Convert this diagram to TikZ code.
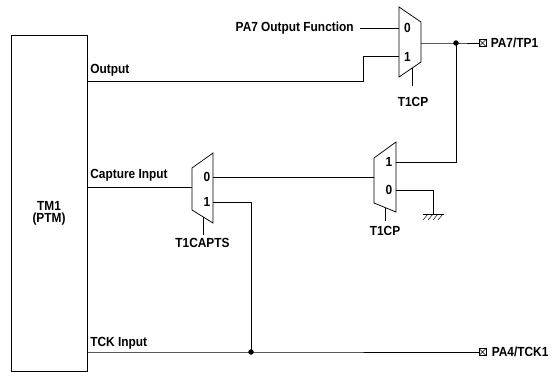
\documentclass[tikz,border=0pt]{standalone}
\usepackage{fontspec}
\setmainfont[FakeStretch=0.9]{Liberation Sans}
\begin{document}
\begin{tikzpicture}[x=1pt,y=-1pt,line width=0.75pt,
  lbl/.style={font=\fontsize{13.2}{14}\selectfont\bfseries,inner sep=0pt},
  muxbox/.style={draw,line width=0.75pt},
  dotnode/.style={circle,fill,inner sep=0pt,minimum size=5.5pt},
  pinbox/.style={draw,line width=0.6pt,inner sep=0pt,minimum size=7pt,
    path picture={\draw[line width=0.5pt] (path picture bounding box.south west)--(path picture bounding box.north east)
      (path picture bounding box.north west)--(path picture bounding box.south east);}}]
\useasboundingbox (0,0) rectangle (558,372);

% TM1 block
\node[draw,minimum width=76pt,minimum height=336pt,inner sep=0pt,anchor=north west] (tm) at (11,35) {};
\node[lbl,align=center] (tmtxt) at (49,213.5) {TM1\\[-2pt](PTM)};

% Mux 1 (top)
\draw[muxbox] (399,7) -- (421,22) -- (421,62) -- (399,77) -- cycle;
\coordinate (m1a) at (399,28);
\coordinate (m1b) at (399,56);
\coordinate (m1o) at (421,43);
\coordinate (m1s) at (412,68);
\coordinate (m1se) at (412,86);
\node[lbl] (m1l0) at (407.5,28) {0};
\node[lbl] (m1l1) at (407.5,56.5) {1};
\node[lbl] (t1cpa) at (413,101.5) {T1CP};

% Mux 2 (capture)
\draw[muxbox] (192,168) -- (213,153) -- (213,223) -- (192,210) -- cycle;
\coordinate (m2o) at (192,187);
\coordinate (m2a) at (213,177);
\coordinate (m2b) at (213,202);
\coordinate (m2s) at (203,217);
\coordinate (m2se) at (203,235);
\node[lbl] (m2l0) at (207,177) {0};
\node[lbl] (m2l1) at (207,201.5) {1};
\node[lbl] (t1capts) at (202.5,242.5) {T1CAPTS};

% Mux 3
\draw[muxbox] (374,158) -- (396,142) -- (396,212) -- (374,203) -- cycle;
\coordinate (m3o) at (374,177);
\coordinate (m3a) at (396,162);
\coordinate (m3b) at (396,190);
\coordinate (m3s) at (385,207.5);
\coordinate (m3se) at (385,221);
\node[lbl] (m3l1) at (389,162) {1};
\node[lbl] (m3l0) at (389,190) {0};
\node[lbl] (t1cpb) at (385,231) {T1CP};

% labels
\node[lbl,anchor=east] (pa7f) at (354,28.5) {PA7 Output Function};
\coordinate (pa7fe) at (360,28);
\node[lbl,anchor=base west] (outl) at (90,73) {Output};
\node[lbl,anchor=base west] (capl) at (90,178.5) {Capture Input};
\node[lbl,anchor=base west] (tckl) at (90,346) {TCK Input};

% pins
\node[pinbox] (pin1) at (482.5,43) {};
\node[lbl,anchor=west] (pin1t) at (490.5,43) {PA7/TP1};
\node[pinbox] (pin2) at (482.5,352) {};
\node[lbl,anchor=west] (pin2t) at (491.5,352) {PA4/TCK1};

% dots
\node[dotnode] (d1) at (456,43) {};
\node[dotnode] (d2) at (251,352) {};

% wires
\draw (pa7fe) -- (m1a);
\draw (tm.east |- 0,81) -- (363,81) -- (363,56) -- (m1b);
\draw (m1o) -- (d1.center) -- (pin1.west);
\draw (m1s) -- (m1se);
\draw (d1.center) -- (456,162) -- (m3a);
\draw (m3o) -- (m2a);
\draw (m3s) -- (m3se);
\draw (tm.east |- 0,187) -- (m2o);
\draw (m2s) -- (m2se);
\draw (m2b) -- (251,202) -- (d2.center);
\draw (tm.east |- 0,352) -- (d2.center) -- (pin2.west);

% ground
\coordinate (gnd) at (433,214);
\draw (m3b) -- (433,190) -- (gnd);
\draw (423,214) -- (444,214);
\foreach \gx in {428,433,438,443} \draw[line width=0.5pt] (\gx,214) -- (\gx-5,220);
\end{tikzpicture}
\end{document}
